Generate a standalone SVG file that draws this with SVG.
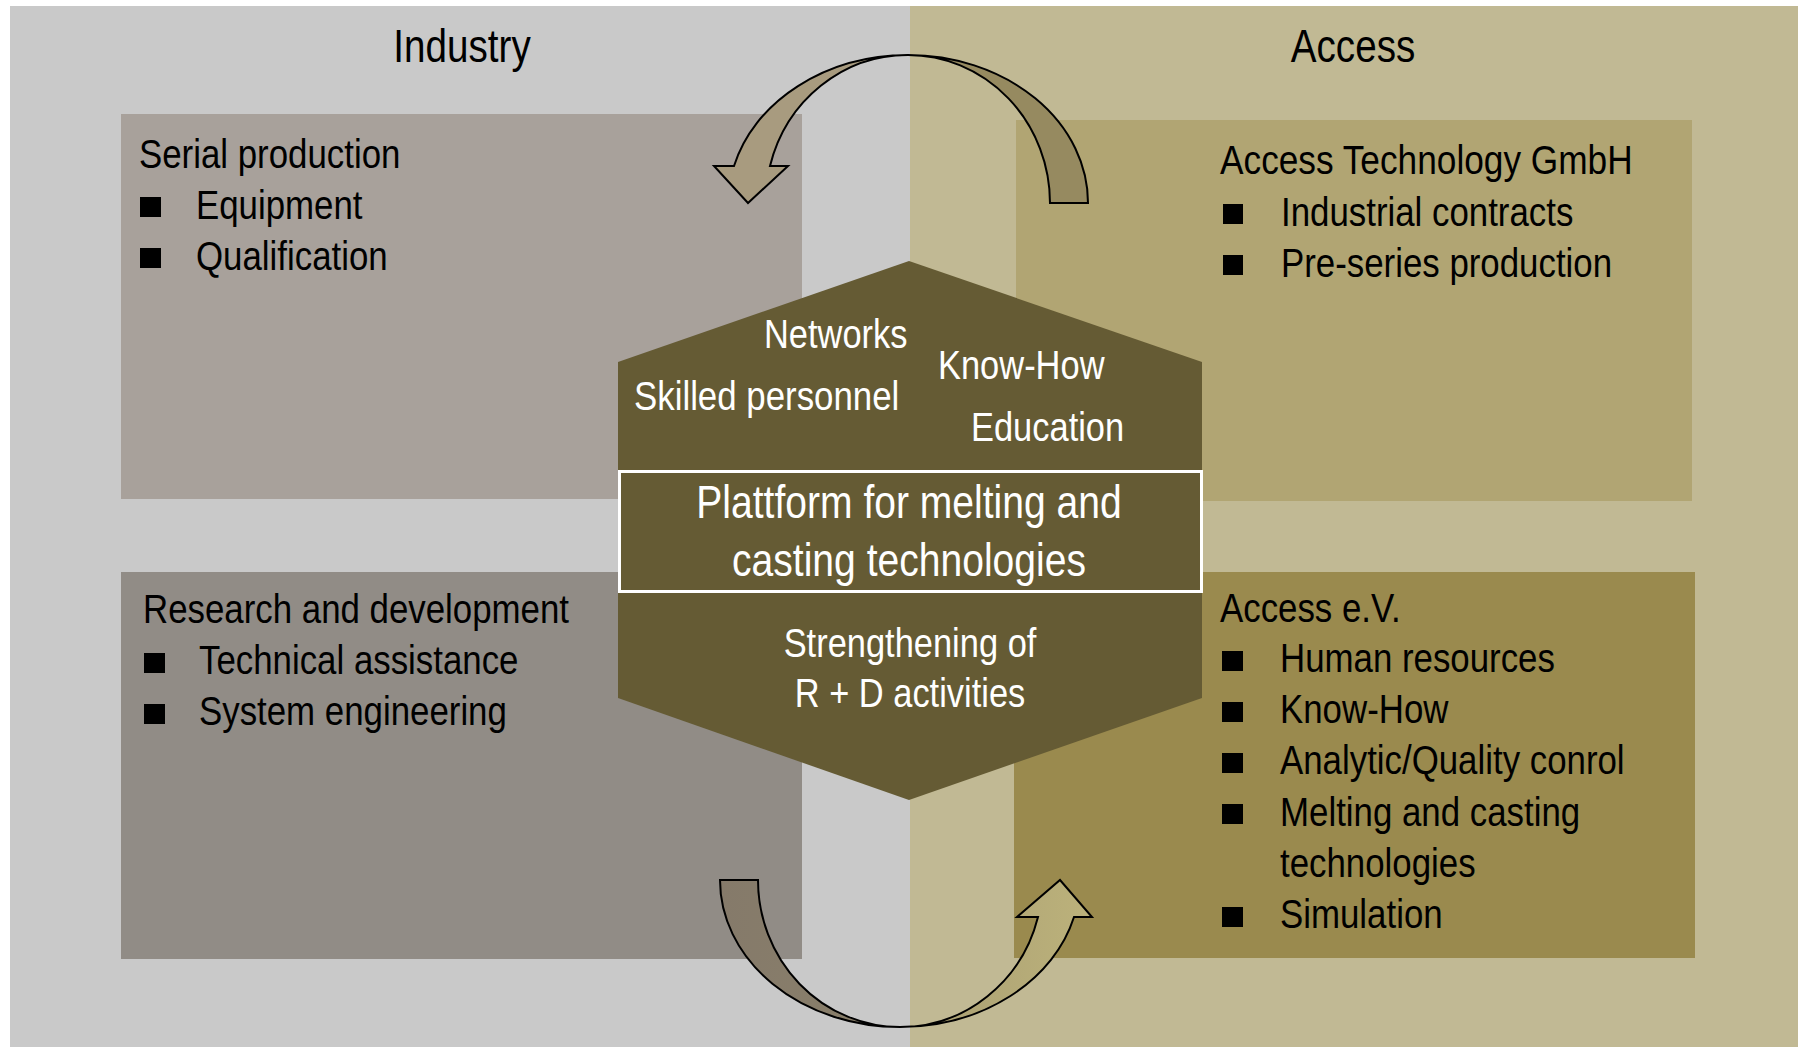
<svg xmlns="http://www.w3.org/2000/svg" width="1798" height="1047" viewBox="0 0 1798 1047">
  <defs>
    <style>
      text { font-family: "Liberation Sans", Arial, sans-serif; }
      .hdr { font-size: 46px; fill: #000; text-anchor: middle; }
      .body { font-size: 41px; fill: #000; }
      .hex { font-size: 41px; fill: #fff; }
      .hexc { font-size: 41px; fill: #fff; text-anchor: middle; }
      .big { font-size: 46.5px; fill: #fff; text-anchor: middle; }
      .bul { fill: #000; }
      .arr { stroke: #000; stroke-width: 2; stroke-linejoin: miter; }
    </style>
    <linearGradient id="gBotR" x1="900" y1="0" x2="1092" y2="0" gradientUnits="userSpaceOnUse">
      <stop offset="0" stop-color="#A89D72"/>
      <stop offset="1" stop-color="#BCB27B"/>
    </linearGradient>
    <linearGradient id="gBotL" x1="720" y1="0" x2="900" y2="0" gradientUnits="userSpaceOnUse">
      <stop offset="0" stop-color="#857A6A"/>
      <stop offset="1" stop-color="#8A806A"/>
    </linearGradient>
  </defs>

  <g id="background">
    <rect x="10" y="6" width="900" height="1041" fill="#C9C9C9"/>
    <rect x="910" y="6" width="888" height="1041" fill="#C1B994"/>
  </g>

  <g id="header-industry"><text class="hdr" transform="matrix(0.84 0 0 1 462 62)">Industry</text></g>
  <g id="header-access"><text class="hdr" transform="matrix(0.84 0 0 1 1353 62)">Access</text></g>

  <g id="node-serial-production">
    <rect x="121" y="114" width="681" height="385" fill="#A8A19B"/>
    <text class="body" transform="matrix(0.85 0 0 1 139 168)">Serial production</text>
    <rect class="bul" x="140" y="197" width="21" height="20"/>
    <text class="body" transform="matrix(0.85 0 0 1 196 219)">Equipment</text>
    <rect class="bul" x="140" y="248" width="21" height="20"/>
    <text class="body" transform="matrix(0.85 0 0 1 196 270)">Qualification</text>
  </g>

  <g id="node-access-technology">
    <rect x="1016" y="120" width="676" height="381" fill="#B1A573"/>
    <text class="body" transform="matrix(0.86 0 0 1 1220 174)">Access Technology GmbH</text>
    <rect class="bul" x="1223" y="204" width="20" height="20"/>
    <text class="body" transform="matrix(0.85 0 0 1 1281 226)">Industrial contracts</text>
    <rect class="bul" x="1223" y="255" width="20" height="20"/>
    <text class="body" transform="matrix(0.85 0 0 1 1281 277)">Pre-series production</text>
  </g>

  <g id="node-research-development">
    <rect x="121" y="572" width="681" height="387" fill="#918C86"/>
    <text class="body" transform="matrix(0.85 0 0 1 143 623)">Research and development</text>
    <rect class="bul" x="144" y="653" width="21" height="20"/>
    <text class="body" transform="matrix(0.85 0 0 1 199 674)">Technical assistance</text>
    <rect class="bul" x="144" y="704" width="21" height="20"/>
    <text class="body" transform="matrix(0.85 0 0 1 199 725)">System engineering</text>
  </g>

  <g id="node-access-ev">
    <rect x="1014" y="572" width="681" height="386" fill="#9A8A4E"/>
    <text class="body" transform="matrix(0.85 0 0 1 1220 622)">Access e.V.</text>
    <rect class="bul" x="1222" y="651" width="21" height="20"/>
    <text class="body" transform="matrix(0.85 0 0 1 1280 672)">Human resources</text>
    <rect class="bul" x="1222" y="702" width="21" height="20"/>
    <text class="body" transform="matrix(0.85 0 0 1 1280 723)">Know-How</text>
    <rect class="bul" x="1222" y="753" width="21" height="20"/>
    <text class="body" transform="matrix(0.85 0 0 1 1280 774)">Analytic/Quality conrol</text>
    <rect class="bul" x="1222" y="804" width="21" height="20"/>
    <text class="body" transform="matrix(0.85 0 0 1 1280 826)">Melting and casting</text>
    <text class="body" transform="matrix(0.85 0 0 1 1280 877)">technologies</text>
    <rect class="bul" x="1222" y="907" width="21" height="20"/>
    <text class="body" transform="matrix(0.85 0 0 1 1280 928)">Simulation</text>
  </g>

  <g id="connectors">
    <path class="arr" fill="#968A60" d="M 1088,203 A 180,148 0 0 0 908,55 A 142,148 0 0 1 1050,203 Z"/>
    <path class="arr" fill="#A89B7F" d="M 908,55 A 180,148 0 0 0 734,166 L 714,166 L 748,203 L 788,166 L 770,166 A 142,148 0 0 1 908,55 Z"/>
    <path class="arr" fill="url(#gBotL)" d="M 720,880 A 180,147 0 0 0 900,1027 A 142,147 0 0 1 758,880 Z"/>
    <path class="arr" fill="url(#gBotR)" d="M 900,1027 A 180,147 0 0 0 1074,917 L 1092,917 L 1060,880 L 1017,917 L 1038,917 A 142,147 0 0 1 900,1027 Z"/>
  </g>

  <g id="node-platform">
    <polygon points="909,261 1202,362 1202,698 909,800 618,698 618,362" fill="#655B34"/>
    <text class="hex" transform="matrix(0.84 0 0 1 764 348)">Networks</text>
    <text class="hex" transform="matrix(0.84 0 0 1 938 379)">Know-How</text>
    <text class="hex" transform="matrix(0.85 0 0 1 634 410)">Skilled personnel</text>
    <text class="hex" transform="matrix(0.84 0 0 1 971 441)">Education</text>
    <rect x="619.5" y="471.5" width="582" height="120" fill="none" stroke="#fff" stroke-width="3"/>
    <text class="big" transform="matrix(0.84 0 0 1 909 518)">Plattform for melting and</text>
    <text class="big" transform="matrix(0.84 0 0 1 909 576)">casting technologies</text>
    <text class="hexc" transform="matrix(0.84 0 0 1 910 657)">Strengthening of</text>
    <text class="hexc" transform="matrix(0.84 0 0 1 910 707)">R + D activities</text>
  </g>
</svg>
